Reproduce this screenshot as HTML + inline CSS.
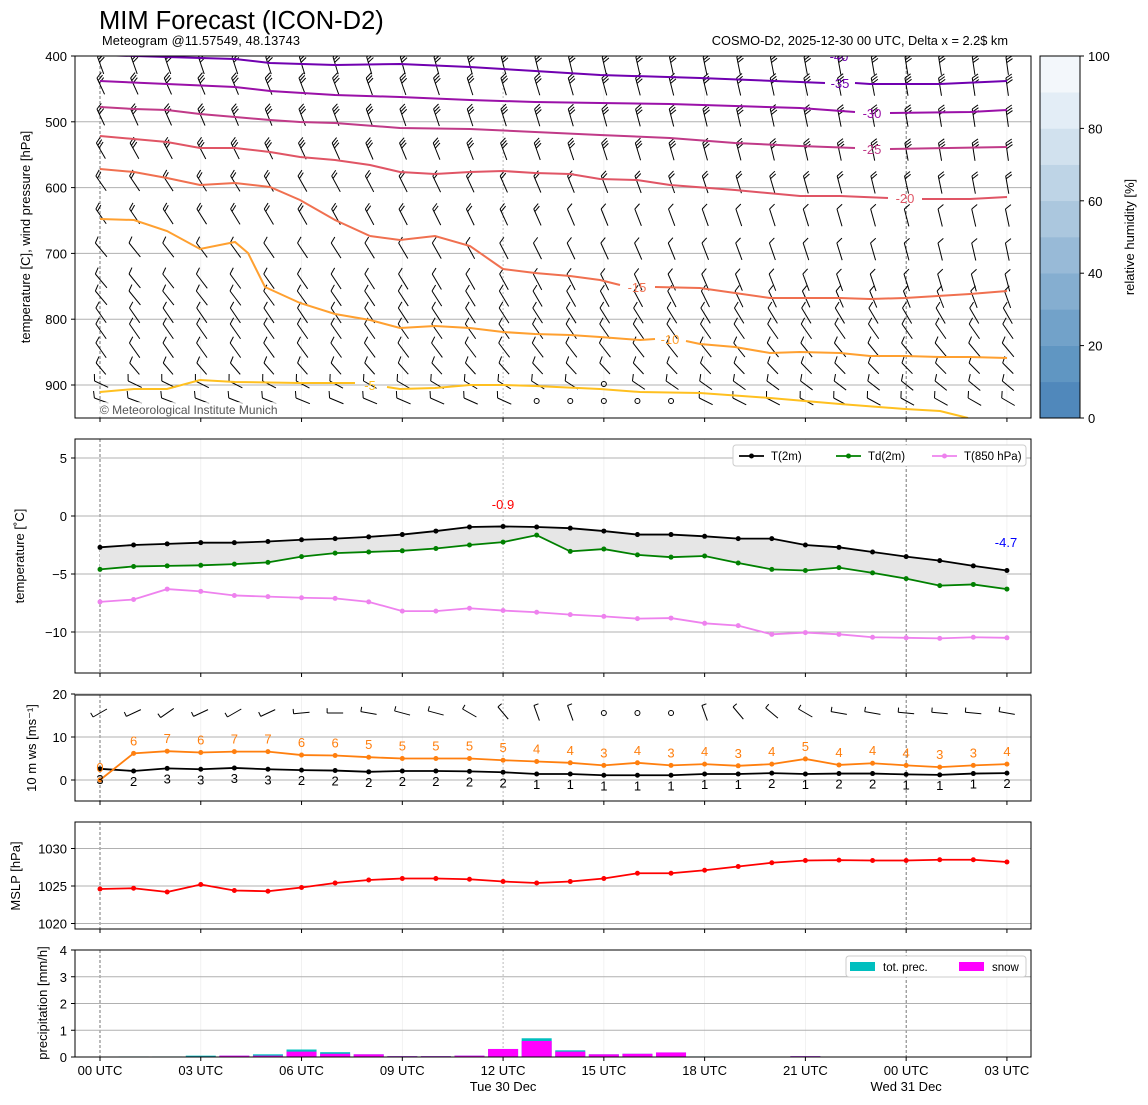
<!DOCTYPE html><html><head><meta charset="utf-8"><style>
body{margin:0;background:#fff}svg{display:block;font-family:"Liberation Sans","DejaVu Sans",sans-serif}
</style></head><body>
<svg id="s" width="1148" height="1105" xmlns="http://www.w3.org/2000/svg"></svg>
<script>
const S=document.getElementById('s');let h='';
const X=t=>100+33.59*t;
function line(pts,c,w,extra){return `<polyline points="${pts.map(p=>p.join(',')).join(' ')}" fill="none" stroke="${c}" stroke-width="${w}" ${extra||''}/>`;}
function txt(x,y,t,sz,anc,col,extra){return `<text x="${x}" y="${y}" font-size="${sz}" text-anchor="${anc||'start'}" fill="${col||'#000'}" ${extra||''}>${t}</text>`;}
h+=txt(99,29,'MIM Forecast (ICON-D2)',25.5);
h+=txt(102,45,'Meteogram @11.57549, 48.13743',12.8,'start','#000','textLength="198"');
h+=txt(1008,45,'COSMO-D2, 2025-12-30 00 UTC, Delta x = 2.2$ km',12.8,'end','#000');
function vgrid(y0,y1){let r='';for(let t=0;t<=27;t+=3){const x=X(t);if(t==0||t==24)r+=`<line x1="${x}" y1="${y0}" x2="${x}" y2="${y1}" stroke="#555" stroke-width="0.8" stroke-dasharray="3,2"/>`;else if(t==12)r+=`<line x1="${x}" y1="${y0}" x2="${x}" y2="${y1}" stroke="#aaa" stroke-width="0.8" stroke-dasharray="2,2"/>`;else r+=`<line x1="${x}" y1="${y0}" x2="${x}" y2="${y1}" stroke="#eee" stroke-width="0.8"/>`;}return r;}
function hg(y){return `<line x1="75" y1="${y}" x2="1031" y2="${y}" stroke="#b0b0b0" stroke-width="1"/>`;}
function frame(y0,y1){return `<rect x="75" y="${y0}" width="956" height="${y1-y0}" fill="none" stroke="#000" stroke-width="1"/>`;}
function xt(y1){let r='';for(let t=0;t<=27;t+=3)r+=`<line x1="${X(t)}" y1="${y1}" x2="${X(t)}" y2="${y1+4}" stroke="#000"/>`;return r;}
function yt(y,l){return `<line x1="71" y1="${y}" x2="75" y2="${y}" stroke="#000"/>`+txt(67,y+5,l,13,'end');}
// ===== Panel 1
h+=`<svg x="75" y="56" width="956" height="362" overflow="hidden"><g transform="translate(-75,-56)">`;
h+=vgrid(56,418);
[500,600,700,800,900].forEach(p=>h+=hg(56+(p-400)*0.658));
function barb(cx,tipy,ang,n,len){const a=ang*Math.PI/180;const ux=Math.sin(a),uy=-Math.cos(a);
 const tx=cx+ux*len*0.4,ty=tipy;const bx=tx-ux*len,by=ty-uy*len;
 let r=`<line x1="${bx}" y1="${by}" x2="${tx}" y2="${ty}" stroke="#000" stroke-width="1"/>`;
 const fx=-uy*0.9+ux*0.45,fy=ux*0.9+uy*0.45;
 for(let i=0;i<n;i++){const px=tx-ux*i*2.8,py=ty-uy*i*2.8;r+=`<line x1="${px}" y1="${py}" x2="${px+fx*7}" y2="${py+fy*7}" stroke="#000" stroke-width="1"/>`;}return r;}
const rows=[[57,-20,3,-8,3],[78,-25,3,-8,3],[109,-25,3,-8,3],[143,-30,3,-8,3],[176,-35,2,-10,2],[209,-35,2,-12,1],[243,-40,1,-12,1],[274,-40,1,-15,1],[291,-40,1,-20,1],[308,-35,1,-30,1],[324,-35,1,-35,1],[343,-35,1,-40,1],[363,-40,1,-45,1],[381,-65,1,-50,1],[398,-70,1,-60,1]];
const calm=[[15,13],[13,14],[14,14],[15,14],[16,14],[17,14]];
for(let t=0;t<=27;t++){const fr=t/27;rows.forEach((r,i)=>{
 if(calm.some(c=>c[0]==t&&c[1]==i)){h+=`<circle cx="${X(t)}" cy="${r[0]+3}" r="2.5" fill="none" stroke="#000"/>`;return;}
 let ang=r[1]*(1-fr)+r[3]*fr;let n=Math.round(r[2]*(1-fr)+r[4]*fr);if(i<4)n=3;
 h+=barb(X(t),r[0],ang,n,i>=12?15:18);});}
const C=[
['#7000b0',[[100,55],[167,57],[235,59],[270,63],[335,65],[400,64],[470,67],[535,71],[600,75],[700,78],[800,82],[825,83]],[[855,83],[870,84],[940,84],[1007,81]],'-35',840,88],
['#9a10a8',[[100,81],[167,84],[235,87],[270,91],[335,95],[400,97],[470,100],[535,102],[600,103],[670,104],[735,106],[800,108],[855,112]],[[890,113],[970,112],[1007,110]],'-30',872,118],
['#c03a88',[[100,107],[134,109],[167,110],[200,114],[235,117],[270,120],[300,122],[335,123],[400,128],[470,129],[535,132],[600,135],[670,138],[735,143],[800,146],[855,148]],[[890,149],[1007,147]],'-25',872,154],
['#e05565',[[100,136],[167,142],[200,148],[235,148],[270,152],[300,157],[335,160],[370,165],[400,172],[435,174],[470,172],[503,171],[535,173],[570,174],[600,179],[637,180],[670,185],[735,190],[800,196],[840,196],[888,198]],[[922,199],[970,199],[1007,197]],'-20',905,203],
['#f07050',[[100,169],[134,172],[167,178],[200,185],[235,183],[270,187],[300,200],[335,220],[370,236],[400,240],[435,236],[470,246],[503,269],[535,273],[570,276],[600,280],[620,285]],[[655,287],[700,288],[735,293],[770,298],[840,298],[870,299],[905,298],[970,294],[1007,291]],'-15',637,292],
['#ffa030',[[100,219],[134,220],[167,231],[200,249],[235,242],[248,253],[265,287],[300,303],[335,314],[370,320],[400,328],[435,326],[470,328],[503,332],[535,334],[570,335],[600,337],[640,340],[655,339]],[[686,341],[700,344],[735,347],[770,353],[800,352],[840,353],[870,356],[905,356],[940,357],[970,357],[1007,358]],'-10',670,344],
['#ffc020',[[100,392],[134,389],[167,389],[200,380],[235,382],[300,383],[355,383]],[[387,387],[400,389],[435,388],[470,385],[503,385],[535,386],[600,389],[640,392],[700,393],[770,398],[840,404],[905,409],[940,411],[968,418]],'-5',370,390]];
C.forEach(c=>{h+=line(c[1],c[0],2)+line(c[2],c[0],2)+txt(c[4],c[5],c[3],13,'middle',c[0]);});
h+=txt(839,61,'-40',13,'middle','#7000b0');
h+=`<rect x="97" y="402" width="202" height="15" fill="#fff" opacity="0.7"/>`+txt(100,414,'© Meteorological Institute Munich',12,'start','#555');
h+=`</g></svg>`;
h+=frame(56,418);
[400,500,600,700,800,900].forEach(p=>h+=yt(56+(p-400)*0.658,p));
h+=xt(418);
h+=txt(30,237,'temperature [C], wind pressure [hPa]',13,'middle','#000','transform="rotate(-90 30 237)"');
const cb=['#5088bb','#6096c2','#72a2c9','#85aed0','#98bad7','#abc7de','#bed4e6','#d1e1ee','#e3edf6','#f3f7fb'];
for(let i=0;i<10;i++){const y1=418-i*36.2;h+=`<rect x="1040" y="${y1-36.2}" width="40" height="36.5" fill="${cb[i]}"/>`;}
h+=`<rect x="1040" y="56" width="40" height="362" fill="none" stroke="#000"/>`;
for(let v=0;v<=100;v+=20){const y=418-v*3.62;h+=`<line x1="1080" y1="${y}" x2="1084" y2="${y}" stroke="#000"/>`+txt(1088,y+5,v,13);}
h+=txt(1134,237,'relative humidity [%]',13,'middle','#000','transform="rotate(-90 1134 237)"');
// ===== Panel 2
const T=[-2.7,-2.5,-2.4,-2.3,-2.3,-2.2,-2.05,-1.95,-1.8,-1.6,-1.3,-0.95,-0.9,-0.95,-1.05,-1.3,-1.6,-1.6,-1.75,-1.95,-1.95,-2.5,-2.7,-3.1,-3.5,-3.85,-4.3,-4.7];
const TD=[-4.6,-4.35,-4.3,-4.25,-4.15,-4.0,-3.5,-3.2,-3.1,-3.0,-2.8,-2.5,-2.25,-1.65,-3.05,-2.85,-3.35,-3.55,-3.45,-4.05,-4.6,-4.7,-4.45,-4.9,-5.4,-6.0,-5.9,-6.3];
const T8=[-7.4,-7.2,-6.3,-6.5,-6.85,-6.95,-7.05,-7.1,-7.4,-8.2,-8.2,-7.95,-8.15,-8.3,-8.5,-8.65,-8.85,-8.8,-9.25,-9.45,-10.2,-10.05,-10.2,-10.45,-10.5,-10.55,-10.45,-10.5];
const Y2=v=>516-11.6*v;
h+=vgrid(439,673);[5,0,-5,-10].forEach(v=>h+=hg(Y2(v)));
const pT=T.map((v,i)=>[X(i),Y2(v)]),pD=TD.map((v,i)=>[X(i),Y2(v)]),p8=T8.map((v,i)=>[X(i),Y2(v)]);
h+=`<polygon points="${pT.concat(pD.slice().reverse()).map(p=>p.join(',')).join(' ')}" fill="#e6e6e6"/>`;
function series(pts,c){let r=line(pts,c,1.8);pts.forEach(p=>r+=`<circle cx="${p[0]}" cy="${p[1]}" r="2.5" fill="${c}"/>`);return r;}
h+=series(p8,'#ee82ee')+series(pD,'#008000')+series(pT,'#000');
h+=txt(503,509,'-0.9',13,'middle','#f00')+txt(1006,547,'-4.7',13,'middle','#00f');
h+=`<rect x="733" y="445" width="293" height="21" rx="3" fill="#fff" stroke="#ccc"/>`;
[[739,'#000','T(2m)'],[836,'#008000','Td(2m)'],[932,'#ee82ee','T(850 hPa)']].forEach(l=>{h+=`<line x1="${l[0]}" y1="456" x2="${l[0]+25}" y2="456" stroke="${l[1]}" stroke-width="1.8"/><circle cx="${l[0]+12.5}" cy="456" r="2.5" fill="${l[1]}"/>`+txt(l[0]+32,460,l[2],11.5);});
h+=frame(439,673);[5,0,-5,-10].forEach(v=>h+=yt(Y2(v),v==0?'0':(v<0?'−'+(-v):v)));h+=xt(673);
h+=txt(24,556,'temperature [˚C]',13,'middle','#000','transform="rotate(-90 24 556)"');
// ===== Panel 3
const G=[0,6.2,6.7,6.4,6.6,6.6,5.8,5.7,5.3,5.0,5.0,5.0,4.6,4.3,4.0,3.4,4.0,3.4,3.7,3.3,3.7,4.9,3.5,3.9,3.4,3.0,3.4,3.7];
const GL=[0,6,7,6,7,7,6,6,5,5,5,5,5,4,4,3,4,3,4,3,4,5,4,4,4,3,3,4];
const W=[2.6,2.1,2.7,2.5,2.8,2.5,2.3,2.2,1.9,2.1,2.1,2.0,1.8,1.4,1.4,1.1,1.1,1.1,1.4,1.4,1.6,1.4,1.5,1.5,1.3,1.2,1.5,1.6];
const WL=[3,2,3,3,3,3,2,2,2,2,2,2,2,1,1,1,1,1,1,1,2,1,2,2,1,1,1,2];
const Y3=v=>780-4.3*v;
h+=vgrid(695,801);[20,10,0].forEach(v=>h+=hg(Y3(v)));
const wang=[60,65,55,65,60,65,85,90,100,105,105,120,140,160,160,0,0,0,160,140,130,120,100,100,95,95,95,100];
for(let t=0;t<=27;t++){const x=X(t),y=713;if(t>=15&&t<=17){h+=`<circle cx="${x}" cy="${y}" r="2.5" fill="none" stroke="#000"/>`;continue;}
 const a=wang[t]*Math.PI/180,L=16;const dx=Math.sin(a)*L,dy=-Math.cos(a)*L;h+=`<line x1="${x-dx/2}" y1="${y-dy/2}" x2="${x+dx/2}" y2="${y+dy/2}" stroke="#000"/>`;
 const ex=x-dx/2,ey=y-dy/2;h+=`<line x1="${ex}" y1="${ey}" x2="${ex+dy*0.3}" y2="${ey-dx*0.3}" stroke="#000"/>`;}
const pG=G.map((v,i)=>[X(i),Y3(v)]),pW=W.map((v,i)=>[X(i),Y3(v)]);
h+=series(pW,'#000')+series(pG,'#ff7f0e');
GL.forEach((l,i)=>h+=txt(X(i),Y3(G[i])-8,l,13,'middle','#ff7f0e'));
WL.forEach((l,i)=>h+=txt(X(i),Y3(W[i])+15,l,13,'middle','#000'));
h+=frame(695,801);[20,10,0].forEach(v=>h+=yt(Y3(v),v));h+=xt(801);
h+=txt(36,748,'10 m ws [ms⁻¹]',13,'middle','#000','transform="rotate(-90 36 748)"');
// ===== Panel 4
const M=[1024.6,1024.7,1024.2,1025.2,1024.4,1024.3,1024.8,1025.4,1025.8,1026.0,1026.0,1025.9,1025.6,1025.4,1025.6,1026.0,1026.7,1026.7,1027.1,1027.6,1028.1,1028.4,1028.45,1028.4,1028.4,1028.5,1028.5,1028.2];
const Y4=v=>886-7.5*(v-1025);
h+=vgrid(822,929);[1030,1025,1020].forEach(v=>h+=hg(Y4(v)));
h+=series(M.map((v,i)=>[X(i),Y4(v)]),'#f00');
h+=frame(822,929);[1030,1025,1020].forEach(v=>h+=yt(Y4(v),v));h+=xt(929);
h+=txt(20,876,'MSLP [hPa]',13,'middle','#000','transform="rotate(-90 20 876)"');
// ===== Panel 5
const Y5=v=>1057-26.75*v;
h+=vgrid(950,1057);[4,3,2,1,0].forEach(v=>h+=hg(Y5(v)));
const PR=[[1,0.02,0],[2,0.02,0],[3,0.05,0.02],[4,0.05,0.05],[5,0.1,0.05],[6,0.28,0.2],[7,0.18,0.12],[8,0.1,0.1],[9,0.03,0.03],[10,0.03,0.03],[11,0.05,0.05],[12,0.3,0.3],[13,0.7,0.6],[14,0.25,0.2],[15,0.1,0.1],[16,0.12,0.12],[17,0.17,0.17],[18,0.02,0],[21,0.03,0.03]];
PR.forEach(p=>{const x=X(p[0])-15;h+=`<rect x="${x}" y="${Y5(p[1])}" width="30" height="${p[1]*26.75}" fill="#00bfbf"/><rect x="${x}" y="${Y5(p[2])}" width="30" height="${p[2]*26.75}" fill="#ff00ff"/>`;});
h+=`<rect x="846" y="956" width="180" height="21" rx="3" fill="#fff" stroke="#ccc"/><rect x="850" y="962" width="25" height="9" fill="#00bfbf"/>`+txt(883,971,'tot. prec.',11.5)+`<rect x="959" y="962" width="25" height="9" fill="#ff00ff"/>`+txt(992,971,'snow',11.5);
h+=frame(950,1057);[4,3,2,1,0].forEach(v=>h+=yt(Y5(v),v));h+=xt(1057);
['00 UTC','03 UTC','06 UTC','09 UTC','12 UTC','15 UTC','18 UTC','21 UTC','00 UTC','03 UTC'].forEach((l,i)=>h+=txt(X(i*3),1075,l,13,'middle'));
h+=txt(X(12),1091,'Tue 30 Dec',13,'middle')+txt(X(24),1091,'Wed 31 Dec',13,'middle');
h+=txt(47,1003,'precipitation [mm/h]',13,'middle','#000','transform="rotate(-90 47 1003)"');
S.innerHTML=h;
</script></body></html>
